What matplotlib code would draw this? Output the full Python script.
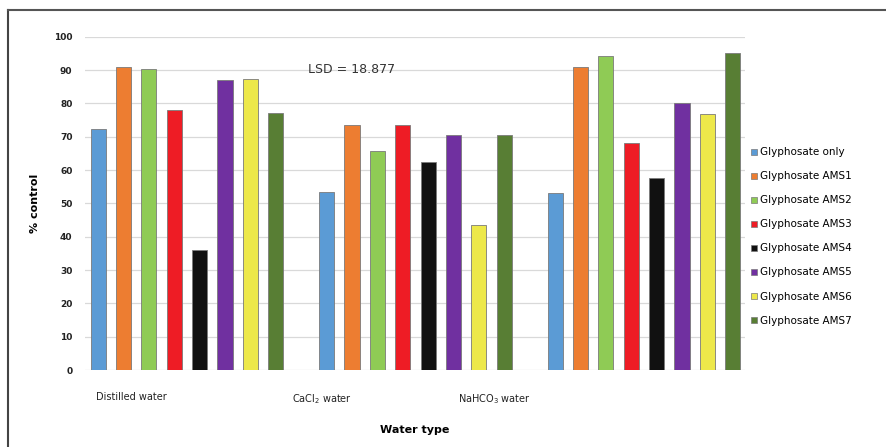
import numpy as np
import matplotlib
matplotlib.use("Agg")
import matplotlib.pyplot as plt
from matplotlib.lines import Line2D

# data
water_types = ["Distilled water", r"CaCl$_\mathregular{2}$ water", r"NaHCO$_\mathregular{3}$ water"]
treatments = ["Glyphosate only", "Glyphosate AMS1", "Glyphosate AMS2", "Glyphosate AMS3",
              "Glyphosate AMS4", "Glyphosate AMS5", "Glyphosate AMS6", "Glyphosate AMS7"]
distilled = [72.2, 90.8, 90.3, 78.0, 36.0, 87.0, 87.2, 77.0]
cacl2 = [53.4, 73.5, 65.7, 73.5, 62.4, 70.5, 43.5, 70.5]
nahco3 = [53.0, 91.0, 94.2, 68.0, 57.5, 80.0, 76.7, 95.0]
colors = ["#5b9bd5", "#ed7d31", "#8fcb55", "#ee1c25", "#111111", "#7030a0", "#ede84a", "#587e34"]

values = np.array([distilled, cacl2, nahco3])

fig = plt.figure(figsize=(8.86, 4.47), dpi=100)
ax = fig.add_axes([85/886, 1-370/447, (745-85)/886, (370-36.7)/447])

step = 0.111
width = 0.066
x = np.arange(len(water_types))
for i, t in enumerate(treatments):
    ax.bar(x - 3.5*step + i*step, values[:, i], width, color=colors[i],
           edgecolor="#7a7a7a", linewidth=0.6, label=t, zorder=3)

ax.set_xlim(-0.446, 2.442)
ax.set_ylim(0, 100)
ax.set_yticks(np.arange(0, 101, 10))
ax.yaxis.grid(True, color="#d9d9d9", linewidth=0.9, zorder=0)
for s in ax.spines.values():
    s.set_visible(False)
ax.tick_params(axis="y", length=0, labelsize=6.5, colors="#222222", pad=9)
for lab in ax.get_yticklabels():
    lab.set_fontweight("bold")
ax.tick_params(axis="x", length=0)

# category labels sit left of the group centres in the original
ax.set_xticks([(131-187)/228.5, (322-187)/228.5, (494-187)/228.5])
ax.set_xticklabels(water_types, fontsize=7, color="#222222")
ax.tick_params(axis="x", pad=16)

ax.set_ylabel("% control", fontsize=8, fontweight="bold", labelpad=10)
ax.set_xlabel("Water type", fontsize=8, fontweight="bold", labelpad=14)
ax.text((352-187)/228.5, 90.3, "LSD = 18.877", fontsize=9, color="#333333", ha="center", va="center")

handles = [Line2D([], [], marker="s", linestyle="none", markersize=5,
                  markerfacecolor=c, markeredgecolor="#7a7a7a", markeredgewidth=0.5) for c in colors]
fig.legend(handles, treatments, loc="upper left", bbox_to_anchor=(746/886, 1-143/447),
           frameon=False, fontsize=7.5, labelspacing=1.35, handletextpad=0.15,
           handlelength=0.8, borderaxespad=0)

# outer frame (left and top edges only)
fig.add_artist(Line2D([8/886, 8/886], [0, 1-10/447], color="#444444", linewidth=1.5))
fig.add_artist(Line2D([8/886, 1], [1-10/447, 1-10/447], color="#555555", linewidth=1.5))

fig.savefig("out.png", dpi=100)
